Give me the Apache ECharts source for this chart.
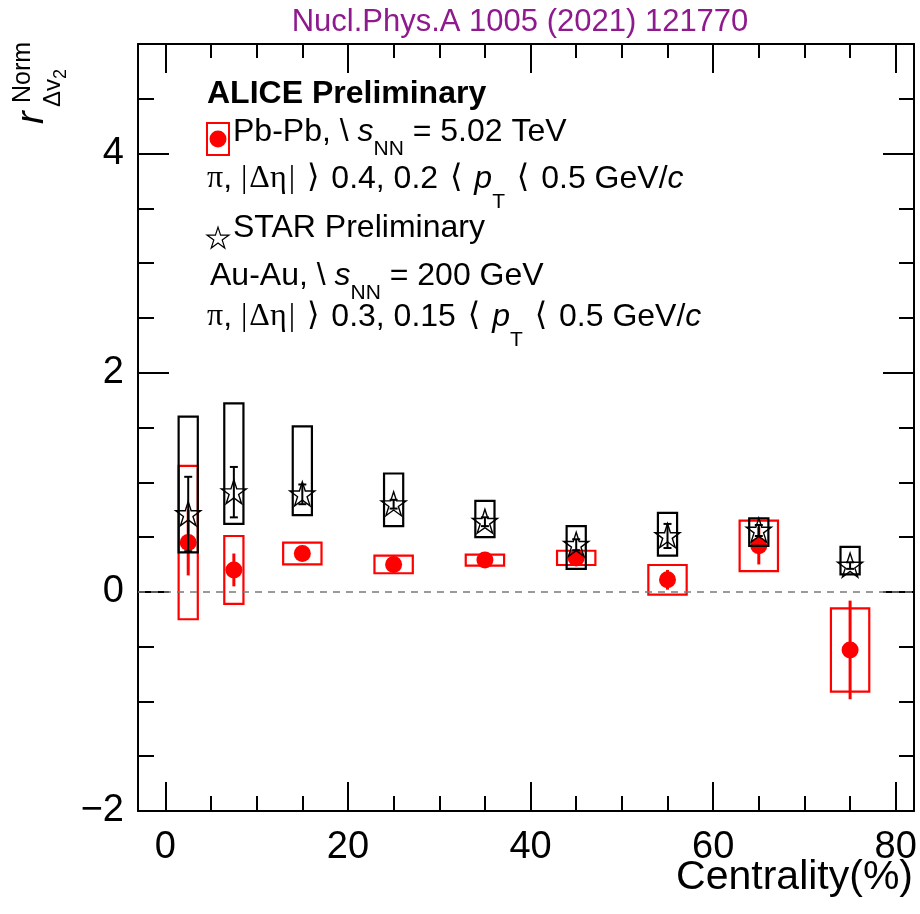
<!DOCTYPE html>
<html>
<head>
<meta charset="utf-8">
<script src="https://cdn.jsdelivr.net/npm/echarts@6/dist/echarts.min.js"></script>
<style>
html, body { margin: 0; padding: 0; background: #fff; }
#chart { width: 920px; height: 914px; }
</style>
</head>
<body>
<div id="chart"></div>
<script>
// centrality bin centres (%)
var centrality = [2.5, 7.5, 15, 25, 35, 45, 55, 65, 75];

// ALICE Pb-Pb 5.02 TeV
var aliceValue = [0.45, 0.20, 0.35, 0.25, 0.29, 0.31, 0.11, 0.42, -0.53];
var aliceStat = [0.30, 0.15, 0.04, 0.03, 0.03, 0.05, 0.09, 0.17, 0.45];
var aliceSys = [0.70, 0.31, 0.10, 0.08, 0.05, 0.065, 0.135, 0.23, 0.38];
var aliceBoxHalf = [1.05, 1.05, 2.1, 2.1, 2.1, 2.1, 2.1, 2.1, 2.1];

// STAR Au-Au 200 GeV
var starValue = [0.71, 0.91, 0.89, 0.80, 0.64, 0.43, 0.51, 0.56, 0.24];
var starStat = [0.34, 0.23, 0.09, 0.04, 0.04, 0.05, 0.11, 0.05, 0.03];
var starSysLow = [0.36, 0.62, 0.70, 0.60, 0.50, 0.21, 0.33, 0.42, 0.16];
var starSysHigh = [1.60, 1.72, 1.51, 1.08, 0.83, 0.60, 0.72, 0.67, 0.41];
var starBoxHalf = 1.05;

// axis ticks
var xMajorTicks = [0, 20, 40, 60, 80];
var xMinorTicks = [5, 10, 15, 25, 30, 35, 45, 50, 55, 65, 70, 75];
var yMajorTicks = [-2, 0, 2, 4];
var yMinorTicks = [-1.5, -1, -0.5, 0.5, 1, 1.5, 2.5, 3, 3.5, 4.5];

var FONT = '"Liberation Sans", Arial, sans-serif';
var SERIF = '"Liberation Serif", "DejaVu Serif", serif';
// open star marker outline, 0..100 box
var STAR_PTS = [[50, 0], [61.17, 34.63], [97.55, 34.55], [68.07, 55.87], [79.39, 90.45],
    [50, 69], [20.61, 90.45], [31.93, 55.87], [2.45, 34.55], [38.83, 34.63]];

function starPoints(cx, cy, w, h) {
    return STAR_PTS.map(function (p) {
        return [cx + (p[0] - 50) * w / 95.1, cy + (p[1] - 47) * h / 90.45];
    });
}

var chart = echarts.init(document.getElementById('chart'));

function xAxisDef(pos, ticks, len, main) {
    return {
        type: 'value', min: -3, max: 82, position: pos,
        axisLine: { show: main, onZero: false, lineStyle: { color: '#000', width: 2 } },
        axisTick: { show: true, inside: true, length: len, customValues: ticks, lineStyle: { color: '#000', width: 2 } },
        axisLabel: { show: false },
        splitLine: { show: false }
    };
}
function yAxisDef(pos, ticks, len, main) {
    return {
        type: 'value', min: -2, max: 5, position: pos,
        axisLine: { show: main, onZero: false, lineStyle: { color: '#000', width: 2 } },
        axisTick: { show: true, inside: true, length: len, customValues: ticks, lineStyle: { color: '#000', width: 2 } },
        axisLabel: { show: false },
        splitLine: { show: false }
    };
}

var xMain = xAxisDef('bottom', xMajorTicks, 29, true);
xMain.axisLabel = {
    show: true, customValues: xMajorTicks, margin: 18,
    fontSize: 38, color: '#000', fontFamily: FONT
};

var yMain = yAxisDef('left', yMajorTicks, 31, true);
yMain.axisLabel = {
    show: true, customValues: yMajorTicks, margin: 14,
    fontSize: 38, color: '#000', fontFamily: FONT,
    formatter: function (v) { return v < 0 ? '\u2212' + (-v) : String(v); }
};

function boxData(lo, hi, half) {
    return centrality.map(function (x, i) {
        return [x, lo[i], hi[i], Array.isArray(half) ? half[i] : half];
    });
}

function renderBox(color) {
    return function (params, api) {
        var x = api.value(0), h = api.value(3);
        var p1 = api.coord([x - h, api.value(2)]);
        var p2 = api.coord([x + h, api.value(1)]);
        return {
            type: 'rect',
            shape: { x: p1[0], y: p1[1], width: p2[0] - p1[0], height: p2[1] - p1[1] },
            style: { fill: 'none', stroke: color, lineWidth: 2.2 }
        };
    };
}

function renderBar(color, width, cap) {
    return function (params, api) {
        var x = api.value(0);
        var top = api.coord([x, api.value(2)]);
        var bot = api.coord([x, api.value(1)]);
        var st = { stroke: color, lineWidth: width };
        var kids = [{ type: 'line', shape: { x1: top[0], y1: top[1], x2: bot[0], y2: bot[1] }, style: st }];
        if (cap) {
            kids.push({ type: 'line', shape: { x1: top[0] - cap, y1: top[1], x2: top[0] + cap, y2: top[1] }, style: st });
            kids.push({ type: 'line', shape: { x1: bot[0] - cap, y1: bot[1], x2: bot[0] + cap, y2: bot[1] }, style: st });
        }
        return { type: 'group', children: kids };
    };
}

function renderStar(params, api) {
    var p = api.coord([api.value(0), api.value(1)]);
    return {
        type: 'polygon',
        shape: { points: starPoints(p[0], p[1], 25, 24) },
        style: { fill: 'none', stroke: '#000', lineWidth: 1.4 }
    };
}

var aliceLo = aliceValue.map(function (v, i) { return v - aliceSys[i]; });
var aliceHi = aliceValue.map(function (v, i) { return v + aliceSys[i]; });
var aliceStatLo = aliceValue.map(function (v, i) { return v - aliceStat[i]; });
var aliceStatHi = aliceValue.map(function (v, i) { return v + aliceStat[i]; });
var starStatLo = starValue.map(function (v, i) { return v - starStat[i]; });
var starStatHi = starValue.map(function (v, i) { return v + starStat[i]; });

var legendRich = {
    m: { fontSize: 32, fontFamily: FONT, lineHeight: 36, verticalAlign: 'top' },
    b: { fontSize: 32, fontWeight: 'bold', fontFamily: FONT, lineHeight: 36, verticalAlign: 'top' },
    i: { fontSize: 32, fontStyle: 'italic', fontFamily: FONT, lineHeight: 36, verticalAlign: 'top' },
    g: { fontSize: 32, fontFamily: SERIF, lineHeight: 36, verticalAlign: 'top' },
    gp: { fontSize: 32, fontFamily: SERIF, lineHeight: 36, padding: [0, 2, 0, 2], verticalAlign: 'top' },
    br: { fontSize: 32, fontFamily: '"DejaVu Sans", sans-serif', lineHeight: 36, padding: [0, 3, 0, 3], verticalAlign: 'top' },
    sub: { fontSize: 21, fontFamily: FONT, lineHeight: 21, padding: [23, 0, 0, 0], verticalAlign: 'top' },
    subT: { fontSize: 21, fontFamily: FONT, lineHeight: 21, padding: [29, 0, 0, 0], verticalAlign: 'top' }
};
function legendText(x, baseline, text) {
    return {
        type: 'text', x: x, y: baseline - 29, z: 100,
        style: { text: text, rich: legendRich, fill: '#000', verticalAlign: 'top', align: 'left' }
    };
}
function cutsLine(eta, ptMin) {
    return '{g|\u03c0}{m|, }{g|\u007c}{gp|\u0394\u03b7}{g|\u007c}{m| }{br|\u27e9}{m| ' + eta + ', ' + ptMin +
        ' }{br|\u27e8}{m| }{i|p}{subT|T}{m| }{br|\u27e8}{m| 0.5 GeV/}{i|c}';
}

var option = {
    animation: false,
    backgroundColor: '#fff',
    grid: { left: 138, right: 6, top: 44, bottom: 103, containLabel: false, outerBoundsMode: 'none' },
    xAxis: [
        xMain,
        xAxisDef('bottom', xMinorTicks, 15, false),
        xAxisDef('top', xMajorTicks, 29, true),
        xAxisDef('top', xMinorTicks, 14, false)
    ],
    yAxis: [
        yMain,
        yAxisDef('left', yMinorTicks, 16, false),
        yAxisDef('right', yMajorTicks, 31, true),
        yAxisDef('right', yMinorTicks, 15, false)
    ],
    series: [
        {
            name: 'ALICE sys', type: 'custom', renderItem: renderBox('#ff0000'),
            data: boxData(aliceLo, aliceHi, aliceBoxHalf), encode: { x: 0, y: [1, 2] }, z: 2,
            markLine: {
                silent: true, symbol: 'none', label: { show: false },
                lineStyle: { color: '#7a7a7a', type: [7, 6], width: 1.5 },
                data: [{ yAxis: 0 }]
            }
        },
        {
            name: 'ALICE stat', type: 'custom', renderItem: renderBar('#ff0000', 3, 0),
            data: boxData(aliceStatLo, aliceStatHi, 0), encode: { x: 0, y: [1, 2] }, z: 3
        },
        {
            name: 'ALICE', type: 'scatter', symbol: 'circle', symbolSize: 17, z: 4,
            itemStyle: { color: '#ff0000', opacity: 1 },
            data: centrality.map(function (x, i) { return [x, aliceValue[i]]; })
        },
        {
            name: 'STAR sys', type: 'custom', renderItem: renderBox('#000'),
            data: boxData(starSysLow, starSysHigh, starBoxHalf), encode: { x: 0, y: [1, 2] }, z: 5
        },
        {
            name: 'STAR stat', type: 'custom', renderItem: renderBar('#000', 2, 4),
            data: boxData(starStatLo, starStatHi, 0), encode: { x: 0, y: [1, 2] }, z: 6
        },
        {
            name: 'STAR', type: 'custom', renderItem: renderStar, z: 7,
            data: centrality.map(function (x, i) { return [x, starValue[i]]; }), encode: { x: 0, y: 1 }
        }
    ],
    graphic: [
        {
            type: 'text', x: 520, y: 7,
            style: { text: 'Nucl.Phys.A 1005 (2021) 121770', fill: '#8e1a8e', font: '31px ' + FONT, align: 'center', verticalAlign: 'top' }
        },
        {
            type: 'text', x: 913, y: 878,
            style: { text: 'Centrality(%)', fill: '#000', font: '41px ' + FONT, align: 'right', verticalAlign: 'middle' }
        },
        // y axis title r^Norm_{Δv2}, rotated
        { type: 'text', x: 32, y: 124, rotation: Math.PI / 2, style: { text: 'r', font: 'italic 38px ' + FONT, fill: '#000', align: 'left', verticalAlign: 'middle' } },
        { type: 'text', x: 23, y: 103, rotation: Math.PI / 2, style: { text: 'Norm', font: '25px ' + FONT, fill: '#000', align: 'left', verticalAlign: 'middle' } },
        { type: 'text', x: 53, y: 107, rotation: Math.PI / 2, style: { text: '\u0394v', font: '24px ' + FONT, fill: '#000', align: 'left', verticalAlign: 'middle' } },
        { type: 'text', x: 61, y: 79, rotation: Math.PI / 2, style: { text: '2', font: '18px ' + FONT, fill: '#000', align: 'left', verticalAlign: 'middle' } },
        // legend block
        legendText(207, 107, '{b|ALICE Preliminary}'),
        { type: 'rect', z: 100, shape: { x: 207, y: 123, width: 22, height: 32 }, style: { fill: 'none', stroke: '#ff0000', lineWidth: 2 } },
        { type: 'circle', z: 100, shape: { cx: 218, cy: 139, r: 8.5 }, style: { fill: '#ff0000' } },
        legendText(233, 145, '{m|Pb-Pb, \\ }{i|s}{sub|NN}{m| = 5.02 TeV}'),
        legendText(207, 192, cutsLine('0.4', '0.2')),
        {
            type: 'polygon', z: 100, shape: { points: starPoints(218, 238, 22, 21) },
            style: { fill: 'none', stroke: '#000', lineWidth: 1.2 }
        },
        legendText(233, 241, '{m|STAR Preliminary}'),
        legendText(210, 289, '{m|Au-Au, \\ }{i|s}{sub|NN}{m| = 200 GeV}'),
        legendText(207, 330, cutsLine('0.3', '0.15'))
    ]
};

chart.setOption(option);
</script>
</body>
</html>
